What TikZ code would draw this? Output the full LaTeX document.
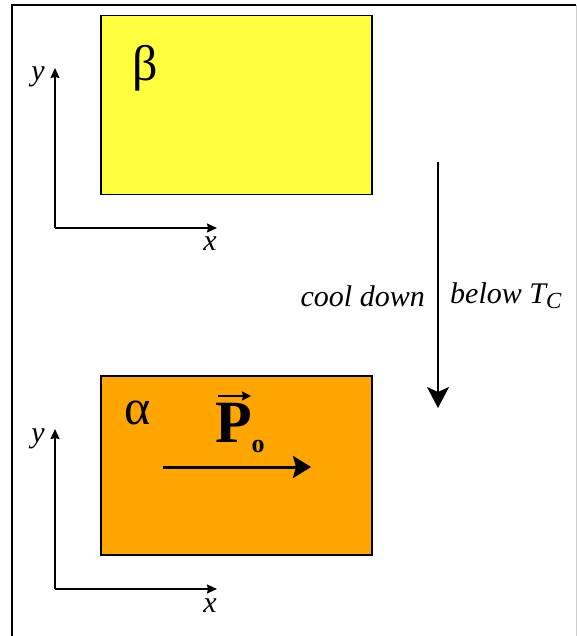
\documentclass[tikz,border=0pt]{standalone}
\usepackage{fontspec}
\setmainfont{Liberation Serif}
\usetikzlibrary{arrows.meta}
\begin{document}
\begin{tikzpicture}[x=1pt,y=-1pt,
  phasebox/.style={draw=black,line width=1.5pt},
  axis/.style={line width=1.6pt,-{Stealth[length=10pt,width=9pt,inset=1pt]}},
  axlabel/.style={font=\fontsize{30}{32}\selectfont\itshape,inner sep=0pt},
  greek/.style={font=\fontsize{50}{52}\selectfont,inner sep=0pt}]
\useasboundingbox (0,0) rectangle (577,636);
% frame
\draw[line width=2pt] (11.5,636) -- (11.5,5) -- (576,5);
\draw[line width=1pt,gray!40] (576,5) -- (576,636);
% boxes
\node[phasebox,fill={rgb,255:red,255;green,255;blue,64},minimum width=271pt,minimum height=179pt,anchor=north west,inner sep=0pt] (beta) at (100,15) {};
\node[phasebox,fill={rgb,255:red,255;green,165;blue,0},minimum width=271pt,minimum height=179pt,anchor=north west,inner sep=0pt] (alpha) at (100,375) {};
\node[greek] (bl) at (145,68) {β};
\node[greek] (al) at (138,413) {α};
% upper axes
\coordinate (o1) at (55,228);
\coordinate (y1) at (55,68);
\coordinate (x1) at (217,228);
\draw[axis] (o1) -- (y1);
\draw[axis] (o1) -- (x1);
\node[axlabel] (yl1) at (38,77) {y};
\node[axlabel] (xl1) at (210,244) {x};
% lower axes
\coordinate (o2) at (55,589);
\coordinate (y2) at (55,429);
\coordinate (x2) at (217,589);
\draw[axis] (o2) -- (y2);
\draw[axis] (o2) -- (x2);
\node[axlabel] (yl2) at (38,439) {y};
\node[axlabel] (xl2) at (210,606) {x};
% cooling arrow
\coordinate (c1) at (438,162);
\coordinate (c2) at (438,408);
\draw[line width=1.8pt,-{Stealth[length=21pt,width=22pt,inset=5pt]}] (c1) -- (c2);
\node[axlabel,anchor=east] (cd) at (425,296) {cool down};
\node[axlabel,anchor=west] (bt) at (450,296) {below \textit{T}\raisebox{-5pt}{\fontsize{23}{25}\selectfont\textit{C}}};
% polarisation
\node[inner sep=0pt,font=\fontsize{60}{62}\selectfont\bfseries] (P) at (234,423) {P};
\node[inner sep=0pt,font=\fontsize{26}{28}\selectfont\bfseries] (Po) at (258,446) {o};
\coordinate (v1) at (218,396);
\coordinate (v2) at (251,396);
\draw[line width=1.6pt,-{Stealth[length=9pt,width=9pt,inset=1pt]}] (v1) -- (v2);
\coordinate (p1) at (163,467);
\coordinate (p2) at (311,467);
\draw[line width=3pt,-{Stealth[length=18pt,width=22pt,inset=3pt]}] (p1) -- (p2);
\end{tikzpicture}
\end{document}
